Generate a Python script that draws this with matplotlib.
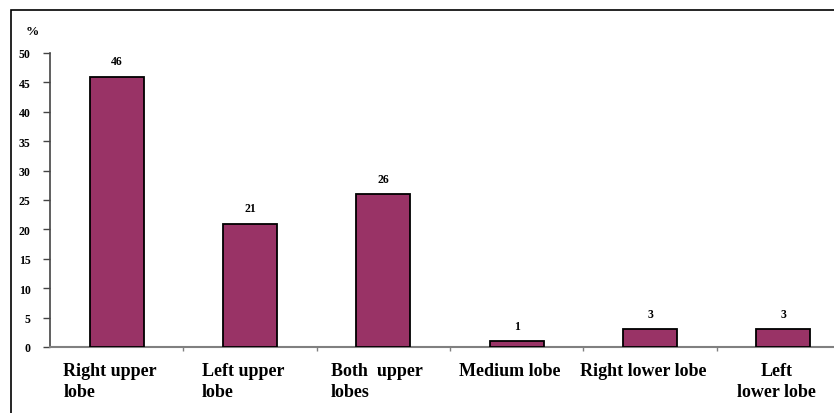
import matplotlib
matplotlib.use("Agg")
import matplotlib.pyplot as plt
from matplotlib.patches import Rectangle
from matplotlib.ticker import FixedLocator

categories = ["Right upper\nlobe", "Left upper\nlobe", "Both  upper\nlobes",
              "Medium lobe", "Right lower lobe", "Left\nlower lobe"]
values = [46, 21, 26, 1, 3, 3]
yticks = [0, 5, 10, 15, 20, 25, 30, 35, 40, 45, 50]

W, H = 834, 414
fig = plt.figure(figsize=(W / 100, H / 100), dpi=100)
fig.patch.set_facecolor("white")

# outer frame
fig.patches.append(Rectangle((11 / W, -0.1), 1.2, (H - 11) / H + 0.1,
                             transform=fig.transFigure, fill=False,
                             edgecolor="black", linewidth=1.2))

left, right, bottom, top = 50, 850, 348, 54
ax = fig.add_axes([left / W, (H - bottom) / H, (right - left) / W, (bottom - top) / H])
ax.set_facecolor("none")

x = list(range(len(values)))
ax.bar(x, values, width=0.405, color="#993366", edgecolor="black", linewidth=1.3, zorder=3)

ax.set_xlim(-0.5, len(values) - 0.5)
ax.set_ylim(0, 50)

for s in ["top", "right"]:
    ax.spines[s].set_visible(False)
ax.spines["left"].set_color("#444444")
ax.spines["bottom"].set_color("#808080")
ax.spines["left"].set_linewidth(1.2)
ax.spines["bottom"].set_linewidth(1.5)

serif = ["Liberation Serif", "DejaVu Serif"]
ax.set_yticks(yticks)
ax.set_yticklabels([str(v) for v in yticks], fontfamily=serif, fontweight="bold", fontsize=8.5)
ax.tick_params(axis="y", direction="out", length=5, width=1, color="#444444", pad=9)

ax.xaxis.set_major_locator(FixedLocator([i + 0.5 for i in range(len(values) - 1)]))
ax.tick_params(axis="x", direction="out", length=3, width=1, color="#808080", labelbottom=False)

for i, (lab, v) in enumerate(zip(categories, values)):
    ha_multi = "center" if lab.startswith("Left\n") else "left"
    ax.text(i - 0.05, -2.5, lab, ha="center", va="top", multialignment=ha_multi,
            fontfamily=serif, fontweight="bold", fontsize=13, linespacing=1.3)
    ax.text(i, v + 1.6, str(v), ha="center", va="bottom",
            fontfamily=serif, fontweight="bold", fontsize=8.5)

fig.text(26 / W, 1 - 32 / H, "%", fontfamily=serif, fontweight="bold", fontsize=9.5,
         ha="left", va="center")

fig.savefig("out.png", dpi=100)
